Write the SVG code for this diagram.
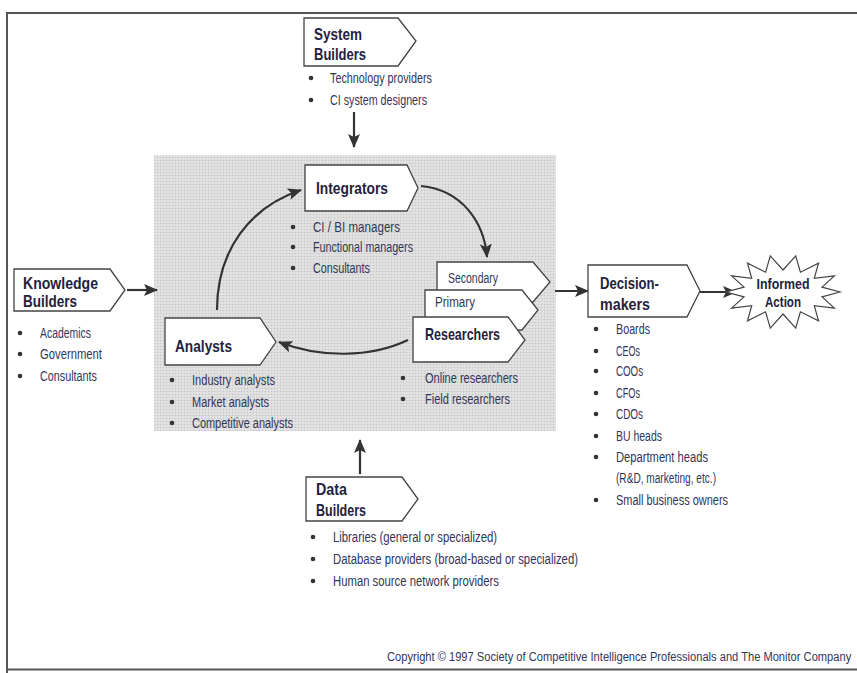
<svg xmlns="http://www.w3.org/2000/svg" width="857" height="673" viewBox="0 0 857 673">
<defs>
<style>
.t{font-family:'Liberation Sans',Arial,sans-serif;fill:#33365a;font-size:14px}
.h{font-family:'Liberation Sans',Arial,sans-serif;fill:#1f2240;font-size:17px;font-weight:bold}
.box{fill:#ffffff;stroke:#444;stroke-width:1.3}
.dot{fill:#333}
.ar{fill:none;stroke:#333;stroke-width:2.2}
</style>
<marker id="ah" markerUnits="userSpaceOnUse" markerWidth="14" markerHeight="12" refX="13" refY="6" orient="auto">
<path d="M0,0 L14,6 L0,12 L3,6 Z" fill="#333"/>
</marker>
<pattern id="dots" width="3" height="3" patternUnits="userSpaceOnUse">
<rect width="3" height="3" fill="#e2e2e2"/>
<circle cx="1.5" cy="1.5" r="0.8" fill="#c6c6c6"/>
</pattern>
</defs>
<rect width="857" height="673" fill="#ffffff"/>
<path d="M7,673 V13 H857 M7,669.5 H857" fill="none" stroke="#555" stroke-width="2"/>
<rect id="shade" x="154" y="155" width="402" height="276" fill="url(#dots)"/>

<g id="connectors">
<path class="ar" marker-end="url(#ah)" d="M354,112 V147"/>
<path class="ar" marker-end="url(#ah)" d="M127,290 H157"/>
<path class="ar" marker-end="url(#ah)" d="M360,474 V440"/>
<path class="ar" marker-end="url(#ah)" d="M555,291 H588"/>
<path class="ar" marker-end="url(#ah)" d="M700,292 H736"/>
<path class="ar" marker-end="url(#ah)" d="M217,310 C217,250 250,207 301,190"/>
<path class="ar" marker-end="url(#ah)" d="M421,186 C462,190 484,222 487,257"/>
<path class="ar" marker-end="url(#ah)" d="M408,340 C370,358 320,358 279,342"/>
</g>

<g id="system-builders">
<path class="box" d="M304,18 H398 L416,41 L398,66 H304 Z"/>
<text class="h" x="314" y="40" textLength="48" lengthAdjust="spacingAndGlyphs">System</text>
<text class="h" x="314" y="60" textLength="52" lengthAdjust="spacingAndGlyphs">Builders</text>
<circle class="dot" cx="311" cy="78" r="2.3"/><text class="t" x="330" y="83" textLength="102" lengthAdjust="spacingAndGlyphs">Technology providers</text>
<circle class="dot" cx="311" cy="100" r="2.3"/><text class="t" x="330" y="105" textLength="97" lengthAdjust="spacingAndGlyphs">CI system designers</text>
</g>

<g id="integrators">
<path class="box" d="M305,165 H407 L418,188 L407,211 H305 Z"/>
<text class="h" x="316" y="194" textLength="72" lengthAdjust="spacingAndGlyphs">Integrators</text>
<circle class="dot" cx="293" cy="227" r="2.3"/><text class="t" x="313" y="232" textLength="87" lengthAdjust="spacingAndGlyphs">CI / BI managers</text>
<circle class="dot" cx="293" cy="247" r="2.3"/><text class="t" x="313" y="252" textLength="100" lengthAdjust="spacingAndGlyphs">Functional managers</text>
<circle class="dot" cx="293" cy="268" r="2.3"/><text class="t" x="313" y="273" textLength="57" lengthAdjust="spacingAndGlyphs">Consultants</text>
</g>

<g id="knowledge-builders">
<path class="box" d="M14,269 H110 L125,290 L110,311 H14 Z"/>
<text class="h" x="23" y="289" textLength="75" lengthAdjust="spacingAndGlyphs">Knowledge</text>
<text class="h" x="23" y="307" textLength="54" lengthAdjust="spacingAndGlyphs">Builders</text>
<circle class="dot" cx="20" cy="333" r="2.3"/><text class="t" x="40" y="338" textLength="51" lengthAdjust="spacingAndGlyphs">Academics</text>
<circle class="dot" cx="20" cy="354" r="2.3"/><text class="t" x="40" y="359" textLength="62" lengthAdjust="spacingAndGlyphs">Government</text>
<circle class="dot" cx="20" cy="376" r="2.3"/><text class="t" x="40" y="381" textLength="57" lengthAdjust="spacingAndGlyphs">Consultants</text>
</g>

<g id="analysts">
<path class="box" d="M165,318 H260 L276,342 L260,365 H165 Z"/>
<text class="h" x="175" y="352" textLength="57" lengthAdjust="spacingAndGlyphs">Analysts</text>
<circle class="dot" cx="172" cy="380" r="2.3"/><text class="t" x="192" y="385" textLength="83" lengthAdjust="spacingAndGlyphs">Industry analysts</text>
<circle class="dot" cx="172" cy="402" r="2.3"/><text class="t" x="192" y="407" textLength="77" lengthAdjust="spacingAndGlyphs">Market analysts</text>
<circle class="dot" cx="172" cy="423" r="2.3"/><text class="t" x="192" y="428" textLength="101" lengthAdjust="spacingAndGlyphs">Competitive analysts</text>
</g>

<g id="researchers">
<path class="box" d="M437,262 H533 L550,282 L533,302 H437 Z"/>
<text class="t" x="448" y="283" textLength="50" lengthAdjust="spacingAndGlyphs">Secondary</text>
<path class="box" d="M425,290 H522 L538,310 L522,330 H425 Z"/>
<text class="t" x="435" y="307" textLength="40" lengthAdjust="spacingAndGlyphs">Primary</text>
<path class="box" d="M413,317 H508 L525,340 L508,362 H413 Z"/>
<text class="h" x="425" y="340" textLength="75" lengthAdjust="spacingAndGlyphs">Researchers</text>
<circle class="dot" cx="403" cy="378" r="2.3"/><text class="t" x="425" y="383" textLength="93" lengthAdjust="spacingAndGlyphs">Online researchers</text>
<circle class="dot" cx="403" cy="399" r="2.3"/><text class="t" x="425" y="404" textLength="85" lengthAdjust="spacingAndGlyphs">Field researchers</text>
</g>

<g id="decision-makers">
<path class="box" d="M588,265 H687 L700,291 L687,317 H588 Z"/>
<text class="h" x="600" y="289" textLength="59" lengthAdjust="spacingAndGlyphs">Decision-</text>
<text class="h" x="600" y="310" textLength="50" lengthAdjust="spacingAndGlyphs">makers</text>
<circle class="dot" cx="596" cy="329" r="2.3"/><text class="t" x="616" y="334" textLength="34" lengthAdjust="spacingAndGlyphs">Boards</text>
<circle class="dot" cx="596" cy="351" r="2.3"/><text class="t" x="616" y="356" textLength="24" lengthAdjust="spacingAndGlyphs">CEOs</text>
<circle class="dot" cx="596" cy="371" r="2.3"/><text class="t" x="616" y="376" textLength="27" lengthAdjust="spacingAndGlyphs">COOs</text>
<circle class="dot" cx="596" cy="393" r="2.3"/><text class="t" x="616" y="398" textLength="24" lengthAdjust="spacingAndGlyphs">CFOs</text>
<circle class="dot" cx="596" cy="414" r="2.3"/><text class="t" x="616" y="419" textLength="27" lengthAdjust="spacingAndGlyphs">CDOs</text>
<circle class="dot" cx="596" cy="436" r="2.3"/><text class="t" x="616" y="441" textLength="46" lengthAdjust="spacingAndGlyphs">BU heads</text>
<circle class="dot" cx="596" cy="457" r="2.3"/><text class="t" x="616" y="462" textLength="92" lengthAdjust="spacingAndGlyphs">Department heads</text>
<text class="t" x="616" y="483" textLength="100" lengthAdjust="spacingAndGlyphs">(R&amp;D, marketing, etc.)</text>
<circle class="dot" cx="596" cy="500" r="2.3"/><text class="t" x="616" y="505" textLength="112" lengthAdjust="spacingAndGlyphs">Small business owners</text>
</g>

<g id="informed-action">
<polygon fill="#ffffff" stroke="#444" stroke-width="1.2" points="840,292 822,296.9 834.4,308.1 814.3,305.7 818.5,320.9 800.4,311.8 795.7,328.1 783,314 770.3,328.1 765.6,311.8 747.5,320.9 751.7,305.7 731.6,308.1 744,296.9 726,292 744,287.1 731.6,275.9 751.7,278.3 747.5,263.1 765.6,272.2 770.3,255.9 783,270 795.7,255.9 800.4,272.2 818.5,263.1 814.3,278.3 834.4,275.9 822,287.1"/>
<text class="h" x="783" y="289" text-anchor="middle" style="font-size:14px" textLength="53" lengthAdjust="spacingAndGlyphs">Informed</text>
<text class="h" x="783" y="307" text-anchor="middle" style="font-size:14px" textLength="36" lengthAdjust="spacingAndGlyphs">Action</text>
</g>

<g id="data-builders">
<path class="box" d="M306,477 H402 L418,499 L402,521 H306 Z"/>
<text class="h" x="316" y="495" textLength="31" lengthAdjust="spacingAndGlyphs">Data</text>
<text class="h" x="316" y="516" textLength="50" lengthAdjust="spacingAndGlyphs">Builders</text>
<circle class="dot" cx="313" cy="537" r="2.3"/><text class="t" x="333" y="542" textLength="164" lengthAdjust="spacingAndGlyphs">Libraries (general or specialized)</text>
<circle class="dot" cx="313" cy="559" r="2.3"/><text class="t" x="333" y="564" textLength="245" lengthAdjust="spacingAndGlyphs">Database providers (broad-based or specialized)</text>
<circle class="dot" cx="313" cy="581" r="2.3"/><text class="t" x="333" y="586" textLength="166" lengthAdjust="spacingAndGlyphs">Human source network providers</text>
</g>

<text class="t" transform="translate(387,661) scale(0.89,1)" x="0" y="0" style="font-size:12.5px">Copyright © 1997 Society of Competitive Intelligence Professionals and The Monitor Company</text>
</svg>
